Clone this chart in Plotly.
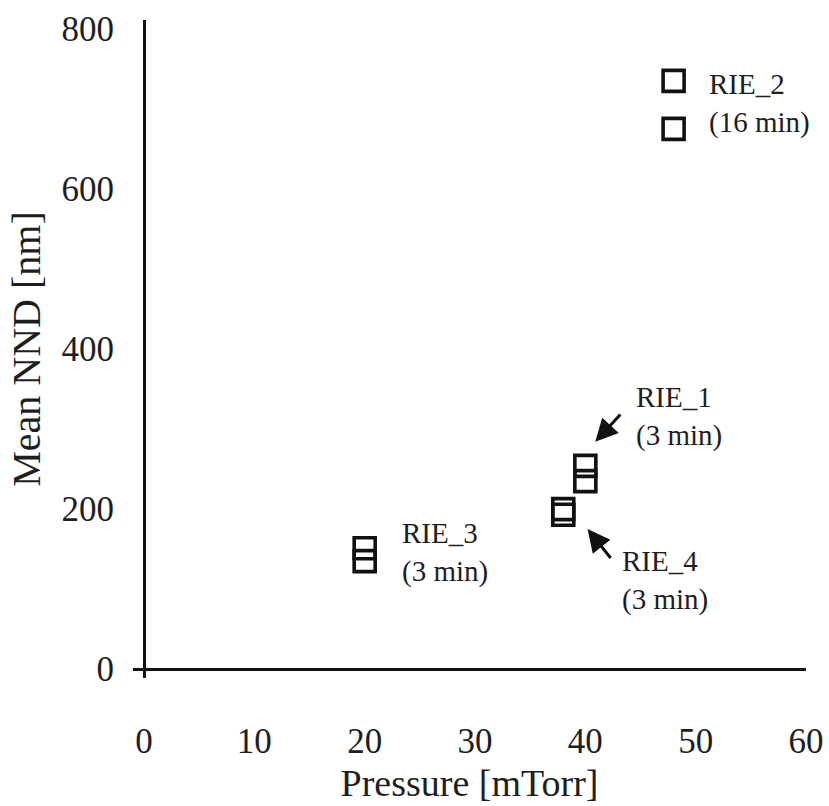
import plotly.graph_objects as go

# Measured samples: chamber pressure [mTorr] and mean nearest-neighbour distance [nm]
series_names = ["RIE_1", "RIE_2", "RIE_3", "RIE_4"]
pressure = {
    "RIE_1": [40, 40],
    "RIE_2": [48, 48],
    "RIE_3": [20, 20],
    "RIE_4": [38, 38],
}
mean_nnd = {
    "RIE_1": [254, 235],
    "RIE_2": [735, 675],
    "RIE_3": [151, 135],
    "RIE_4": [200, 193],
}

# Sample labels (name + etch time) with their anchor point in data units
label_text = ["RIE_1<br>(3 min)", "RIE_2<br>(16 min)", "RIE_3<br>(3 min)", "RIE_4<br>(3 min)"]
label_x = [44.4, 51.0, 23.2, 43.1]
label_y = [316, 707, 146, 111]

# Pointer arrows: (head_x, head_y) <- (tail_x, tail_y)
arrow_head_x = [40.9, 40.2]
arrow_head_y = [284, 175]
arrow_tail_x = [43.3, 42.4]
arrow_tail_y = [320, 137]

x_ticks = [0, 10, 20, 30, 40, 50, 60]
y_ticks = [0, 200, 400, 600, 800]

FONT = "Liberation Serif, Times New Roman, serif"
INK = "#1e1e1e"

fig = go.Figure()
for name in series_names:
    fig.add_trace(go.Scatter(
        x=pressure[name], y=mean_nnd[name], mode="markers", name=name,
        marker=dict(symbol="square-open", size=21, color="#111111",
                    line=dict(width=3.6, color="#111111")),
        showlegend=False,
    ))

annotations = []
for t, x, y in zip(label_text, label_x, label_y):
    annotations.append(dict(
        x=x, y=y, xref="x", yref="y", text=t, showarrow=False,
        xanchor="left", yanchor="middle", align="left",
        font=dict(family=FONT, size=29, color=INK),
    ))
for hx, hy, tx, ty in zip(arrow_head_x, arrow_head_y, arrow_tail_x, arrow_tail_y):
    annotations.append(dict(
        x=hx, y=hy, xref="x", yref="y", ax=tx, ay=ty, axref="x", ayref="y",
        text="", showarrow=True, arrowhead=2, arrowsize=1.5, arrowwidth=3,
        arrowcolor="#111111",
    ))

fig.update_layout(
    width=829, height=806,
    margin=dict(l=133, r=23, t=20, b=128, autoexpand=False),
    paper_bgcolor="white", plot_bgcolor="white",
    font=dict(family=FONT, color=INK),
    annotations=annotations,
    xaxis=dict(
        range=[-1, 60], tickvals=x_ticks, ticktext=[str(v) for v in x_ticks],
        showgrid=False, showline=False, ticks="", automargin=False,
        zeroline=True, zerolinecolor="#111111", zerolinewidth=3,
        tickfont=dict(family=FONT, size=35, color=INK),
        ticklabelstandoff=39,
        title=dict(text="Pressure [mTorr]", font=dict(family=FONT, size=38, color=INK), standoff=9),
    ),
    yaxis=dict(
        range=[-11, 811], tickvals=y_ticks, ticktext=[str(v) for v in y_ticks],
        showgrid=False, showline=False, ticks="", automargin=False,
        zeroline=True, zerolinecolor="#111111", zerolinewidth=3,
        tickfont=dict(family=FONT, size=35, color=INK),
        ticklabelstandoff=18,
        title=dict(text="Mean NND [nm]", font=dict(family=FONT, size=40, color=INK), standoff=8),
    ),
)

fig.write_html("out.html")
